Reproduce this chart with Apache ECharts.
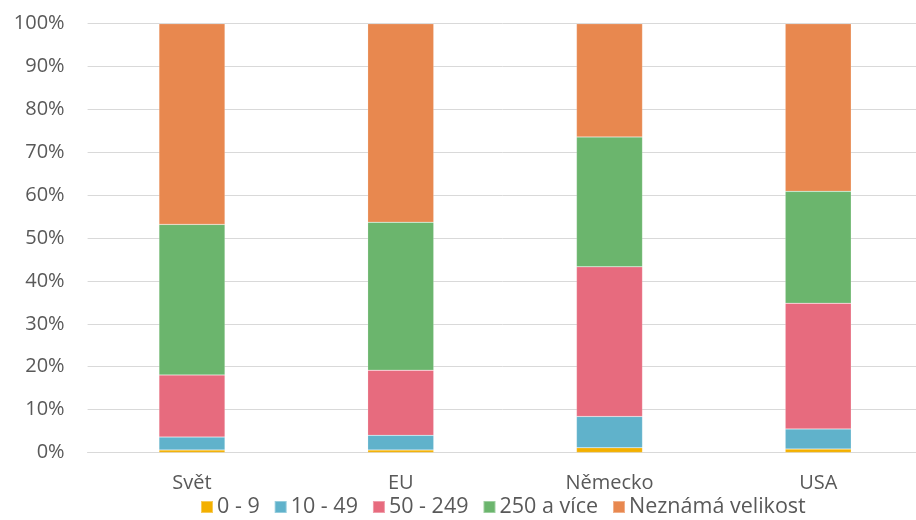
<!DOCTYPE html>
<html><head><meta charset="utf-8">
<script src="https://cdn.jsdelivr.net/npm/echarts@6/dist/echarts.min.js"></script>
<style>html,body{margin:0;padding:0;background:#fff}#c{width:916px;height:520px}</style>
</head><body><div id="c"></div>
<script>
const categories = ['Svět', 'EU', 'Německo', 'USA'];
const seriesNames = ['0 - 9', '10 - 49', '50 - 249', '250 a více', 'Neznámá velikost'];
const s0_9 = [0.6, 0.6, 1.1, 0.8];
const s10_49 = [3.0, 3.4, 7.3, 4.7];
const s50_249 = [14.5, 15.2, 34.9, 29.3];
const s250 = [35.1, 34.5, 30.3, 26.1];
const sUnknown = [46.8, 46.3, 26.4, 39.1];
const yTicks = [0, 10, 20, 30, 40, 50, 60, 70, 80, 90, 100];

const colors = ['#F3B000', '#60B2CB', '#E76B7E', '#6BB56D', '#E8884F'];
const dataSets = [s0_9, s10_49, s50_249, s250, sUnknown];
const font = '"Open Sans", Lato, sans-serif';
const chart = echarts.init(document.getElementById('c'));
chart.setOption({
  animation: false,
  textStyle: {fontFamily: font},
  grid: {left: 87.6, width: 835, top: 23.7, height: 428.8, containLabel: false, outerBoundsMode: 'none'},
  legend: {
    bottom: -3, left: 195, itemWidth: 12, itemHeight: 12, itemGap: 14,
    icon: 'rect',
    textStyle: {fontSize: 21.5, color: '#595959', fontFamily: font, padding: [0, 0, 0, -1]},
    data: seriesNames
  },
  xAxis: {
    type: 'category', data: categories,
    axisLine: {lineStyle: {color: '#d9d9d9', width: 1}},
    axisTick: {show: false},
    axisLabel: {fontSize: 20, color: '#595959', margin: 21, fontFamily: font}
  },
  yAxis: {
    type: 'value', min: 0, max: 100, interval: 10,
    axisLine: {show: false}, axisTick: {show: false},
    splitLine: {lineStyle: {color: '#d9d9d9', width: 1}},
    axisLabel: {fontSize: 20, color: '#595959', margin: 23, fontFamily: font,
      formatter: v => yTicks.includes(v) ? v + '%' : ''}
  },
  series: seriesNames.map((n, i) => ({
    name: n, type: 'bar', stack: 'all', data: dataSets[i],
    barWidth: 66,
    itemStyle: {color: colors[i], borderColor: 'rgba(255,255,255,0.35)', borderWidth: 0.5}
  }))
});
</script></body></html>
